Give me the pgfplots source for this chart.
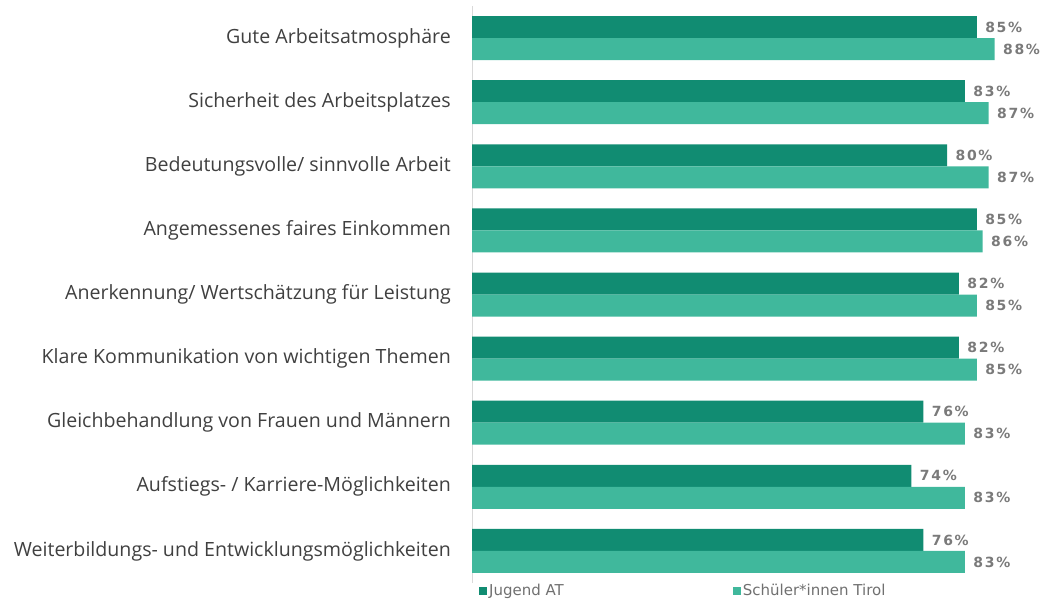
\documentclass[border=0pt]{standalone}
\usepackage{pgfplots}
\pgfplotsset{compat=1.18}
\usepackage{fontspec}
\setmainfont{Open Sans}
\newfontfamily\valfont[LetterSpace=12]{DejaVu Sans}
\newfontfamily\legfont{DejaVu Sans}
\definecolor{darkg}{HTML}{118C72}
\definecolor{lightg}{HTML}{40B89C}
\definecolor{lab}{HTML}{404040}
\definecolor{val}{HTML}{7A7A7A}
\definecolor{leg}{HTML}{707070}
\begin{document}
\begin{tikzpicture}[x=1pt,y=1pt]
\useasboundingbox (0,0) rectangle (1051,598);
\begin{axis}[
  at={(472pt,15pt)}, anchor=south west,
  scale only axis, width=579pt, height=577pt,
  xmin=0, xmax=97.5, ymin=-0.5, ymax=8.5, y dir=reverse,
  xbar, bar width=22pt,
  axis x line=none, axis y line*=left,
  y axis line style={draw=black!15, -, line width=1pt},
  ytick={0,...,8},
  yticklabels={Gute Arbeitsatmosphäre, Sicherheit des Arbeitsplatzes, Bedeutungsvolle/ sinnvolle Arbeit, Angemessenes faires Einkommen, Anerkennung/ Wertschätzung für Leistung, Klare Kommunikation von wichtigen Themen, Gleichbehandlung von Frauen und Männern, Aufstiegs- / Karriere-Möglichkeiten, Weiterbildungs- und Entwicklungsmöglichkeiten},
  yticklabel style={font=\fontsize{19.6}{22}\selectfont, text=lab, inner sep=0pt, xshift=-21pt},
  major tick length=0pt,
  point meta=x,
  /pgf/number format/assume math mode=true,
  nodes near coords={\pgfmathprintnumber{\pgfplotspointmeta}\%},
  nodes near coords style={font=\valfont\bfseries\fontsize{14}{16}\selectfont, text=val, anchor=west, xshift=5pt},
  clip=false,
  legend image code/.code={\fill[#1] (0pt,-4pt) rectangle (8pt,4pt);},
  legend style={at={(axis description cs:0.012,-0.013)}, anchor=west, draw=none, fill=none, inner sep=0pt,
    legend columns=2, font=\legfont\fontsize{15}{17}\selectfont, text=leg,
    /tikz/every even column/.append style={column sep=167pt}},
  legend cell align=left,
]
\addplot[fill=darkg, draw=none, bar shift=11pt] coordinates {
(85,0) (83,1) (80,2) (85,3) (82,4) (82,5) (76,6) (74,7) (76,8)};
\addplot[fill=lightg, draw=none, bar shift=-11pt] coordinates {
(88,0) (87,1) (87,2) (86,3) (85,4) (85,5) (83,6) (83,7) (83,8)};
\legend{Jugend AT, Schüler*innen Tirol}
\end{axis}
\end{tikzpicture}
\end{document}
